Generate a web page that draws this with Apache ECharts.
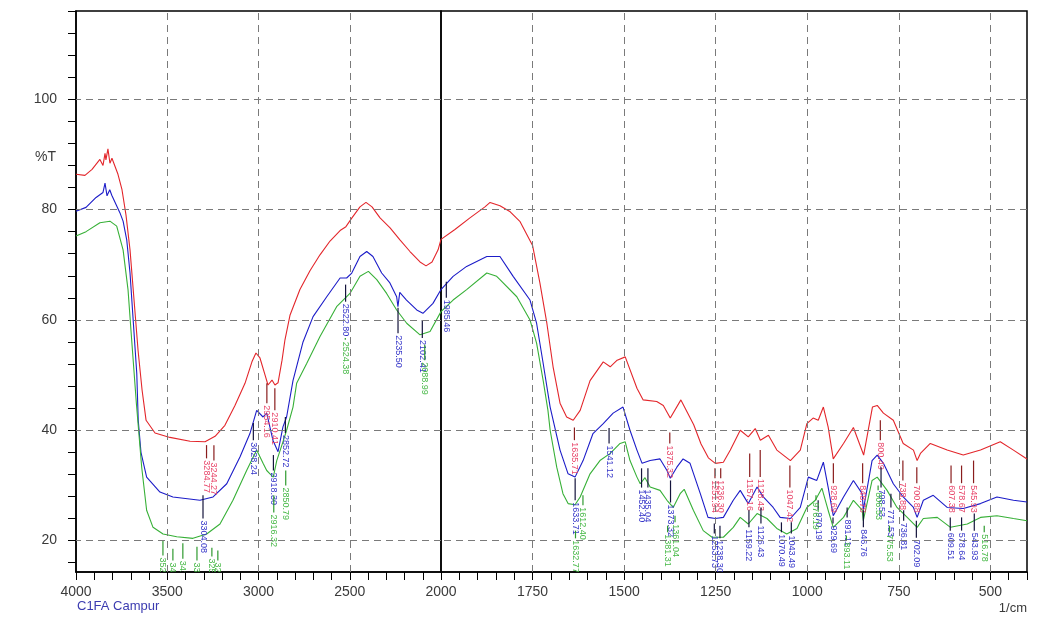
<!DOCTYPE html>
<html><head><meta charset="utf-8">
<script src="https://cdn.jsdelivr.net/npm/echarts@6/dist/echarts.min.js"></script>
<style>html,body{margin:0;padding:0;background:#fff}#c{width:1041px;height:623px}</style>
</head><body><div id="c"></div>
<script>
// ---- data: [wavenumber (1/cm), %T] ----
const red = [[4000,86.4],[3951,86.2],[3912,87.3],[3869,89.1],[3852,88.0],[3841,90.2],[3836,89.0],[3825,91.0],[3814,88.4],[3803,89.3],[3770,86.4],[3748,83.6],[3726,79.0],[3704,72.7],[3682,63.6],[3660,54.5],[3638,47.3],[3616,41.8],[3567,39.5],[3485,38.7],[3375,38.0],[3293,37.9],[3238,38.9],[3184,40.9],[3129,44.5],[3074,48.5],[3036,52.4],[3014,54.0],[2992,53.1],[2964,50.0],[2948,48.2],[2926,49.1],[2910,48.2],[2893,48.6],[2871,52.7],[2855,56.4],[2827,60.9],[2773,65.5],[2718,68.9],[2663,71.8],[2608,74.3],[2553,76.2],[2521,76.9],[2488,78.5],[2444,80.5],[2411,81.3],[2378,80.5],[2334,78.5],[2279,76.7],[2225,74.5],[2170,72.4],[2115,70.5],[2082,69.8],[2049,70.5],[2016,72.7],[2000,74.6],
[1962,76.4],[1921,78.5],[1880,80.5],[1866,81.3],[1839,80.7],[1811,79.6],[1784,77.8],[1750,73.5],[1730,66.7],[1711,59.4],[1694,51.5],[1675,44.9],[1657,42.4],[1639,41.8],[1620,43.6],[1593,49.0],[1557,52.4],[1538,51.5],[1519,52.7],[1497,53.3],[1465,47.6],[1448,45.5],[1411,45.2],[1393,44.5],[1374,42.2],[1345,45.5],[1310,41.0],[1290,37.5],[1270,35.0],[1251,34.0],[1229,34.2],[1210,36.4],[1183,40.0],[1161,38.8],[1142,40.3],[1128,38.2],[1106,39.1],[1083,36.4],[1046,34.5],[1019,36.4],[1001,41.2],[984,42.2],[970,41.8],[956,44.2],[943,40.6],[929,34.8],[901,37.6],[874,40.5],[846,35.5],[822,44.2],[809,44.5],[792,43.1],[765,41.8],[738,37.6],[710,36.4],[700,34.5],[691,35.8],[664,37.6],[618,36.4],[574,35.5],[527,36.4],[473,37.9],[437,36.4],[400,34.8]];

const blue = [[4000,79.7],[3945,80.4],[3890,82.2],[3852,83.1],[3841,84.8],[3830,82.5],[3815,83.6],[3804,82.6],[3759,79.4],[3742,77.9],[3722,74.5],[3704,68.5],[3688,60.6],[3667,50.3],[3659,41.8],[3644,36.0],[3613,31.5],[3540,28.8],[3469,27.9],[3321,27.3],[3249,27.9],[3174,30.3],[3101,35.2],[3047,39.4],[3010,43.6],[2975,42.4],[2955,43.1],[2921,38.2],[2893,36.1],[2866,40.6],[2846,42.4],[2811,49.0],[2756,56.0],[2701,60.6],[2626,64.2],[2553,67.6],[2517,67.6],[2489,68.5],[2444,71.5],[2407,72.4],[2373,71.5],[2325,68.5],[2280,66.7],[2243,64.2],[2236,62.4],[2226,65.0],[2189,63.6],[2133,61.8],[2099,61.2],[2044,63.0],[2000,65.5],
[1967,67.9],[1930,69.7],[1875,71.5],[1839,71.5],[1803,67.9],[1757,63.6],[1739,59.4],[1721,52.1],[1702,44.2],[1675,36.4],[1653,32.1],[1634,31.5],[1612,34.5],[1585,39.4],[1557,41.2],[1530,43.1],[1503,44.2],[1484,40.0],[1465,36.4],[1451,34.0],[1429,34.5],[1402,34.8],[1383,32.7],[1374,31.3],[1356,33.3],[1339,34.8],[1320,34.0],[1292,28.5],[1271,24.2],[1251,24.0],[1229,24.2],[1202,27.3],[1183,29.1],[1161,26.7],[1137,29.7],[1120,27.9],[1093,26.0],[1074,24.2],[1046,24.0],[1019,26.0],[997,31.5],[974,30.9],[956,34.2],[943,29.7],[929,24.5],[901,27.9],[874,30.9],[850,28.5],[847,25.5],[823,34.5],[809,35.5],[792,34.0],[765,30.3],[738,27.9],[710,26.0],[700,24.2],[683,27.3],[656,28.2],[618,26.0],[574,25.8],[527,26.7],[482,27.9],[437,27.3],[400,27.0]];

const green = [[4000,75.2],[3945,76.0],[3869,77.6],[3814,77.9],[3777,77.0],[3742,72.7],[3715,65.5],[3695,56.4],[3669,44.8],[3640,33.3],[3613,25.5],[3578,22.4],[3523,21.2],[3448,20.7],[3359,20.4],[3284,21.2],[3211,23.0],[3140,27.3],[3065,32.7],[3010,36.4],[2975,34.0],[2955,32.7],[2937,32.1],[2919,31.5],[2900,34.5],[2866,37.9],[2846,40.0],[2811,44.2],[2791,48.5],[2736,52.1],[2663,57.0],[2572,62.4],[2499,64.8],[2444,67.9],[2398,68.8],[2352,67.3],[2298,64.8],[2243,61.8],[2188,59.4],[2115,57.3],[2060,57.9],[2000,61.5],
[1967,63.6],[1930,65.5],[1875,68.5],[1848,67.9],[1839,67.3],[1793,64.2],[1757,60.0],[1739,55.8],[1721,49.0],[1708,43.6],[1702,40.0],[1684,33.3],[1667,28.5],[1653,26.7],[1634,26.5],[1620,27.9],[1593,32.1],[1566,34.5],[1538,35.8],[1511,37.6],[1497,37.9],[1484,34.5],[1465,31.5],[1456,30.3],[1443,31.4],[1429,29.7],[1402,29.1],[1383,27.3],[1366,26.0],[1347,28.5],[1336,29.3],[1311,25.5],[1284,21.8],[1260,20.6],[1229,20.6],[1202,22.4],[1183,24.2],[1161,23.0],[1137,24.9],[1110,24.0],[1083,22.2],[1056,21.2],[1028,22.2],[1001,26.0],[978,27.3],[960,29.5],[943,25.5],[929,22.4],[901,24.2],[874,27.3],[850,25.5],[847,23.6],[823,30.9],[809,31.5],[782,29.1],[755,26.0],[727,24.2],[700,22.4],[683,24.0],[645,24.2],[609,22.4],[563,23.0],[527,24.2],[482,24.5],[437,24.0],[400,23.6]];

// ---- peak annotations: [label, %T top of marker, %T bottom of marker] ----
const redPeaks = [["3284.77",37.3,34.9],["3244.27",37.3,34.5],["2954.16",48.5,44.9],["2910.41",47.6,43.6],["1635.71",40.5,38.2],["1375.32",39.6,37.6],["1251.94",33.1,31.3],["1236.30",33.1,31.3],["1157.16",35.8,31.5],["1128.43",36.4,31.5],["1047.42",33.6,29.6],["928.69",34.0,30.4],["848.78",34.0,30.4],["800.49",41.8,38.2],["738.88",34.5,30.9],["700.88",33.3,30.4],["607.38",33.6,30.4],["578.67",33.6,30.4],["545.93",34.5,30.4]];
const bluePeaks = [["3304.08",28.2,24.0],["3028.24",41.3,38.2],["2918.30",35.5,32.7],["2852.72",42.4,39.5],["2522.80",66.4,63.3],["2235.50",62.2,57.6],["2102.41",60.0,56.7],["1985.46",66.9,64.0],["1633.71",31.3,27.3],["1541.12",40.4,37.6],["1452.40",33.1,29.6],["1435.04",33.1,29.6],["1373.32",30.9,26.9],["1253.73",23.1,21.3],["1238.30",22.7,20.4],["1159.22",25.5,22.4],["1126.43",26.0,23.1],["1070.49",23.3,21.5],["1043.49",23.3,21.3],["970.19",27.3,25.5],["929.69",24.2,23.1],["891.11",26.0,24.2],["846.76",25.5,22.4],["798.53",33.3,29.6],["771.53",28.5,26.0],["736.81",25.5,23.6],["702.09",23.6,20.5],["609.51",24.2,21.8],["578.64",24.2,21.8],["543.93",24.9,21.8]];
const greenPeaks = [["3523.62",20.0,17.3],["3469.09",18.5,16.4],["3414.55",19.5,16.7],["3337.18",18.9,16.4],["3255.47",18.7,17.1],["3222.77",18.2,16.4],["2916.32",28.2,25.1],["2850.79",32.7,30.0],["2524.38",56.7,56.4],["2088.99",55.5,52.7],["1632.77",21.8,20.4],["1612.40",28.2,26.4],["1381.31",22.7,21.5],["1361.04",24.5,23.3],["976.19",28.2,27.3],["893.11",20.9,20.0],["806.53",30.0,29.1],["775.53",22.7,21.5],["516.78",22.7,21.5]];

const hGrid = [20, 40, 60, 80, 100];
const vGridLeft = [3500, 3000, 2500];
const vGridRight = [1750, 1500, 1250, 1000, 750, 500];
const yTickValues = [16,20,24,28,32,36,40,44,48,52,56,60,64,68,72,76,80,84,88,92,96,100,104,108,112,116];
const yLabelValues = [20, 40, 60, 80, 100];

// ---- build ----
const FONT = '"Liberation Sans", Arial, sans-serif';
const COL = {red:'#e3262b', blue:'#1c1cc8', green:'#37b037'};
const PEAKCOL = {
  red:{line:'#8a1d1d', text:'#e8466a'},
  blue:{line:'#14143c', text:'#3434c8'},
  green:{line:'#2f9a2f', text:'#46b846'}
};
function part(arr, left){ return arr.filter(p => left ? p[0] >= 2000 : p[0] <= 2000); }
function lineSeries(name, arr, left, idx){
  return {type:'line', name, xAxisIndex:idx, yAxisIndex:idx, data:part(arr,left),
    showSymbol:false, symbol:'none', silent:true, z:3,
    lineStyle:{color:COL[name], width:1.1}};
}
function peakSeries(name, list, left, idx){
  const data = list.map((p,i)=>[parseFloat(p[0]), p[1], p[2], i])
                   .filter(d => left ? d[0] >= 2000 : d[0] < 2000);
  return {type:'custom', xAxisIndex:idx, yAxisIndex:idx, data, clip:true, silent:true, z:4,
    renderItem:function(params, api){
      const wn = api.value(0), t1 = api.value(1), t2 = api.value(2), i = api.value(3);
      const p1 = api.coord([wn, t1]), p2 = api.coord([wn, t2]);
      return {type:'group', children:[
        {type:'line', shape:{x1:p1[0], y1:p1[1], x2:p2[0], y2:p2[1]},
         style:{stroke:PEAKCOL[name].line, lineWidth:1.2}},
        {type:'text', x:p2[0], y:p2[1] + 2, rotation:-Math.PI/2,
         style:{text:list[i][0], fill:PEAKCOL[name].text, font:'9px ' + FONT,
                align:'left', verticalAlign:'middle'}}
      ]};
    }};
}
function gridSeries(idx, vlines){
  return {type:'line', xAxisIndex:idx, yAxisIndex:idx, data:[], silent:true, z:1,
    markLine:{silent:true, symbol:'none', animation:false, label:{show:false},
      lineStyle:{color:'#7a7a7a', type:[7,5], width:1},
      data: hGrid.map(v=>({yAxis:v})).concat(vlines.map(v=>({xAxis:v})))}};
}

const axisLineStyle = {color:'#000', width:1.5};
const option = {
  animation:false,
  backgroundColor:'#fff',
  grid:[
    {left:76, top:11, width:365, height:561, show:true, borderColor:'#000', borderWidth:1.5, containLabel:false, outerBoundsMode:'none'},
    {left:441, top:11, width:586, height:561, show:true, borderColor:'#000', borderWidth:1.5, containLabel:false, outerBoundsMode:'none'}
  ],
  xAxis:[
    {gridIndex:0, type:'value', inverse:true, min:2000, max:4000, interval:500,
     axisLine:{show:true, onZero:false, lineStyle:axisLineStyle},
     axisTick:{show:true, length:8, lineStyle:{color:'#000'}},
     minorTick:{show:true, splitNumber:5, length:8, lineStyle:{color:'#000'}},
     axisLabel:{formatter:v => v === 2000 ? '' : String(v), color:'#3a3a3a', fontSize:14, fontFamily:FONT, margin:13},
     splitLine:{show:false}},
    {gridIndex:1, type:'value', inverse:true, min:400, max:2000, interval:50,
     axisLine:{show:true, onZero:false, lineStyle:axisLineStyle},
     axisTick:{show:true, length:8, lineStyle:{color:'#000'}},
     axisLabel:{formatter:v => (v % 250 === 0) ? String(v) : '', color:'#3a3a3a', fontSize:14, fontFamily:FONT, margin:13},
     splitLine:{show:false}}
  ],
  yAxis:[
    {gridIndex:0, type:'value', min:14.3, max:116,
     axisLine:{show:true, onZero:false, lineStyle:axisLineStyle},
     axisTick:{show:true, length:8, customValues:yTickValues, lineStyle:{color:'#000'}},
     axisLabel:{customValues:yLabelValues, color:'#3a3a3a', fontSize:14, fontFamily:FONT, margin:19},
     splitLine:{show:false}},
    {gridIndex:1, type:'value', min:14.3, max:116, show:false, splitLine:{show:false}}
  ],
  graphic:[
    {type:'text', x:56, y:157, style:{text:'%T', fill:'#3a3a3a', font:'14px ' + FONT, align:'right', verticalAlign:'middle'}},
    {type:'text', x:77, y:606, style:{text:'C1FA Campur', fill:'#3b3bb0', font:'13px ' + FONT, align:'left', verticalAlign:'middle'}},
    {type:'text', x:1027, y:608, style:{text:'1/cm', fill:'#3a3a3a', font:'13px ' + FONT, align:'right', verticalAlign:'middle'}}
  ],
  series:[
    gridSeries(0, vGridLeft), gridSeries(1, vGridRight),
    lineSeries('red', red, true, 0), lineSeries('blue', blue, true, 0), lineSeries('green', green, true, 0),
    lineSeries('red', red, false, 1), lineSeries('blue', blue, false, 1), lineSeries('green', green, false, 1),
    peakSeries('red', redPeaks, true, 0), peakSeries('blue', bluePeaks, true, 0), peakSeries('green', greenPeaks, true, 0),
    peakSeries('red', redPeaks, false, 1), peakSeries('blue', bluePeaks, false, 1), peakSeries('green', greenPeaks, false, 1)
  ]
};
const chart = echarts.init(document.getElementById('c'), null, {renderer:'canvas'});
chart.setOption(option);
</script></body></html>
